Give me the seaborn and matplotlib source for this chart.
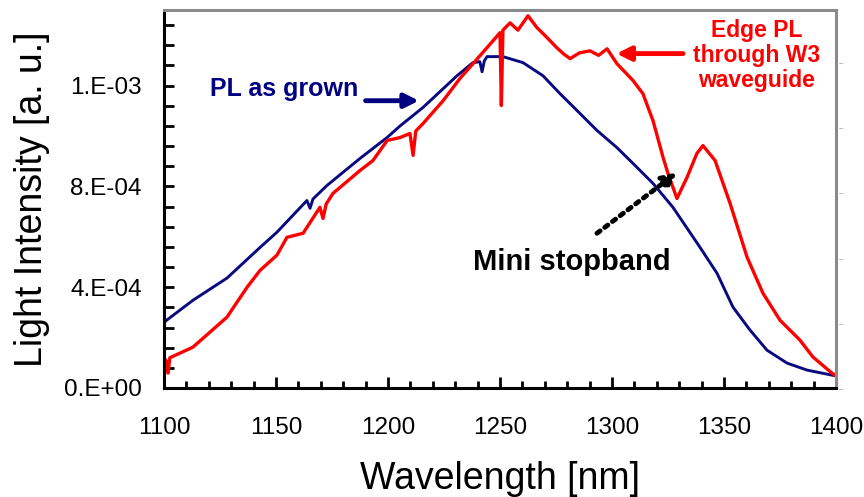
import numpy as np
import pandas as pd
import matplotlib
matplotlib.use("Agg")
import matplotlib.pyplot as plt
import seaborn as sns
from matplotlib.ticker import FixedLocator, FixedFormatter, MultipleLocator

# ---- data ----
blue_wl = [1100.0, 1112.9, 1128.1, 1142.9, 1150.4, 1163.8, 1165.2, 1166.5, 1172.8, 1187.5,
           1199.6, 1205.4, 1215.6, 1230.8, 1237.9, 1241.0, 1242.0, 1243.0, 1244.2, 1251.3,
           1260.3, 1269.2, 1276.8, 1284.4, 1293.3, 1302.2, 1309.4, 1318.3, 1327.2, 1339.3,
           1346.9, 1354.0, 1361.6, 1369.2, 1378.1, 1387.1, 1398.2, 1400.0]
blue_int = [2.61, 3.48, 4.36, 5.58, 6.18, 7.44, 7.13, 7.50, 8.04, 9.11,
            9.94, 10.40, 11.13, 12.39, 12.91, 12.95, 12.55, 12.98, 13.15, 13.15,
            12.91, 12.39, 11.68, 11.01, 10.22, 9.54, 8.91, 8.12, 7.17, 5.58,
            4.55, 3.21, 2.30, 1.50, 0.99, 0.71, 0.51, 0.48]

red_wl = [1100.0, 1101.2, 1101.8, 1102.6, 1112.9, 1128.1, 1137.1, 1142.9, 1150.4, 1154.9,
          1162.1, 1169.6, 1171.0, 1172.4, 1175.4, 1187.5, 1193.3, 1199.6, 1205.4, 1209.8,
          1211.2, 1212.4, 1215.6, 1224.6, 1232.1, 1241.1, 1246.9, 1250.0, 1250.6, 1251.3,
          1254.5, 1258.0, 1262.5, 1266.5, 1270.5, 1275.4, 1278.5, 1281.3, 1285.5, 1290.2,
          1294.0, 1297.8, 1302.2, 1309.4, 1313.8, 1318.3, 1322.8, 1325.0, 1329.0, 1333.5,
          1337.9, 1340.6, 1346.0, 1352.7, 1360.3, 1367.4, 1375.0, 1383.9, 1389.7, 1398.2,
          1400.0]
red_int = [1.19, 1.05, 0.59, 1.20, 1.62, 2.81, 4.00, 4.67, 5.27, 5.98,
           6.14, 7.17, 6.73, 7.30, 7.72, 8.63, 9.03, 9.82, 9.94, 10.10,
           9.23, 10.20, 10.49, 11.40, 12.28, 13.19, 13.78, 14.10, 11.21, 14.20,
           14.49, 14.20, 14.77, 14.30, 13.95, 13.50, 13.25, 13.07, 13.30, 13.38,
           13.20, 13.46, 12.87, 12.20, 11.68, 10.61, 9.15, 8.51, 7.52, 8.36,
           9.31, 9.62, 9.03, 7.33, 5.19, 3.76, 2.69, 1.90, 1.23, 0.59,
           0.48]

scale = 1e-4
x_ticks = [1100, 1150, 1200, 1250, 1300, 1350, 1400]
y_ticks = [0.0, 4e-4, 8e-4, 1.2e-3]
y_ticklabels = ["0.E+00", "4.E-04", "8.E-04", "1.E-03"]
right_ticks = [0.0, 2.6e-4, 5.19e-4, 7.78e-4, 10.37e-4, 12.96e-4]

blue_df = pd.DataFrame({"wl": blue_wl, "I": np.array(blue_int) * scale})
red_df = pd.DataFrame({"wl": red_wl, "I": np.array(red_int) * scale})

sns.set_theme(style="white")
plt.rcParams["font.family"] = ["Liberation Sans", "DejaVu Sans"]
plt.rcParams["text.color"] = "black"
plt.rcParams["axes.labelcolor"] = "black"
plt.rcParams["xtick.color"] = "black"
plt.rcParams["ytick.color"] = "black"

fig = plt.figure(figsize=(8.64, 4.97), dpi=100)
ax = fig.add_axes([164 / 864, 1 - 388 / 497, 672 / 864, 378 / 497])

navy = "#0A0A80"
red = "#FF0000"
sns.lineplot(data=blue_df, x="wl", y="I", ax=ax, color=navy, lw=2.1, estimator=None, sort=False)
sns.lineplot(data=red_df, x="wl", y="I", ax=ax, color=red, lw=2.4, estimator=None, sort=False)

ax.set_xlim(1100, 1400)
ax.set_ylim(0, 1.5e-3)

ax.xaxis.set_major_locator(FixedLocator(x_ticks))
ax.xaxis.set_minor_locator(MultipleLocator(10))
ax.yaxis.set_major_locator(FixedLocator(y_ticks))
ax.yaxis.set_major_formatter(FixedFormatter(y_ticklabels))
ax.yaxis.set_minor_locator(MultipleLocator(8e-5))

ax.tick_params(axis="x", which="major", direction="in", length=8, width=2, color="black",
               labelsize=17.5, pad=21, bottom=True, labelcolor="black")
ax.tick_params(axis="x", which="minor", direction="in", length=5, width=2, color="black", bottom=True)
ax.tick_params(axis="y", which="both", direction="in", length=7, width=2, color="black", left=True)
ax.tick_params(axis="y", which="major", labelsize=17.5, pad=16, labelcolor="black")

for s in ["left", "bottom"]:
    ax.spines[s].set_color("black")
    ax.spines[s].set_linewidth(2.2)
for s in ["top", "right"]:
    ax.spines[s].set_color("#8a8a8a")
    ax.spines[s].set_linewidth(2.2)

ax.set_xlabel("Wavelength [nm]", fontsize=27, labelpad=16, color="black")
ax.set_ylabel("Light Intensity [a. u.]", fontsize=27, labelpad=10, color="black")

# right axis with tiny truncated labels
ax2 = ax.twinx()
ax2.set_ylim(ax.get_ylim())
ax2.yaxis.set_major_locator(FixedLocator(right_ticks))
ax2.yaxis.set_major_formatter(FixedFormatter(["..."] * len(right_ticks)))
ax2.tick_params(axis="y", right=True, length=0, labelsize=5, pad=2, labelcolor="#555555")
for s in ax2.spines.values():
    s.set_visible(False)

# annotations
ax.text(1153.6, 11.88e-4, "PL as grown", color="#000080", fontsize=18, fontweight="bold",
        ha="center", va="center")
ax.annotate("", xy=(1213.8, 11.40e-4), xytext=(1190.0, 11.40e-4),
            arrowprops=dict(arrowstyle="-|>,head_length=0.7,head_width=0.35", color="#000080", lw=3.5,
                            shrinkA=0, shrinkB=0))
ax.text(1364.7, 13.19e-4, "Edge PL\nthrough W3\nwaveguide", color=red, fontsize=16.5,
        fontweight="bold", ha="center", va="center", linespacing=1.1)
ax.annotate("", xy=(1302.0, 13.27e-4), xytext=(1331.7, 13.27e-4),
            arrowprops=dict(arrowstyle="-|>,head_length=0.7,head_width=0.35", color=red, lw=3.5,
                            shrinkA=0, shrinkB=0))
ax.text(1282.1, 4.99e-4, "Mini stopband", color="black", fontsize=21, fontweight="bold",
        ha="center", va="center")
ax.annotate("", xy=(1329.0, 8.55e-4), xytext=(1293.3, 6.14e-4),
            arrowprops=dict(arrowstyle="-|>,head_length=0.7,head_width=0.35", color="black", lw=3.5,
                            linestyle=(0, (0.8, 1.2)), shrinkA=0, shrinkB=0))

fig.savefig("out.png", dpi=100)
